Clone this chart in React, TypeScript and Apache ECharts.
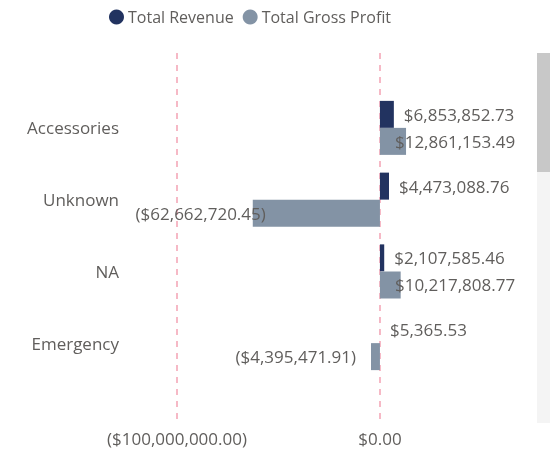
import React, { useEffect, useRef } from "react";
import * as echarts from "echarts";

const categories = ["Accessories", "Unknown", "NA", "Emergency"];
const totalRevenue = [6853852.73, 4473088.76, 2107585.46, 5365.53];
const totalGrossProfit = [12861153.49, -62662720.45, 10217808.77, -4395471.91];
const xTickValues = [-100000000, 0];

const FONT = "'Segoe UI', 'Open Sans', sans-serif";
const TEXT = "#605e5c";
const NAVY = "#223360";
const GREY = "#8393a5";

// label placement style for negative gross-profit labels (pixels from bar start)
const negLabelDistance: Record<string, number> = { Unknown: -13, Emergency: 15 };

const fmt = (v: number) => {
  const s = Math.abs(v).toLocaleString("en-US", {
    minimumFractionDigits: 2,
    maximumFractionDigits: 2,
  });
  return v < 0 ? `($${s})` : `$${s}`;
};

export default function App() {
  const ref = useRef<HTMLDivElement>(null);
  useEffect(() => {
    if (!ref.current) return;
    const chart = echarts.init(ref.current, undefined, { renderer: "svg" });
    const labelBase = { show: true, color: TEXT, fontFamily: FONT, fontSize: 17, formatter: (p: any) => fmt(p.value) };
    const xMin = xTickValues[0];
    const xMax = 70000000;
    chart.setOption({
      animation: false,
      textStyle: { fontFamily: FONT },
      legend: {
        left: 104,
        top: 4,
        icon: "circle",
        itemWidth: 15,
        itemHeight: 15,
        itemGap: 9,
        textStyle: { color: TEXT, fontSize: 16, fontFamily: FONT, padding: [0, 0, 0, -1] },
        data: ["Total Revenue", "Total Gross Profit"],
      },
      grid: [
        { left: 177, right: 172, top: 53, bottom: 33 },
        { left: 177, right: 30, top: 92, bottom: 455 - 379 },
      ],
      xAxis: [
        {
          gridIndex: 0,
          type: "value",
          min: xTickValues[0],
          max: xTickValues[1],
          interval: 100000000,
          axisLine: { show: false },
          axisTick: { show: false },
          axisLabel: {
            color: TEXT,
            fontSize: 17,
            fontFamily: FONT,
            margin: 8,
            formatter: (v: number) => fmt(v),
          },
          splitLine: { show: true, lineStyle: { color: "#f6b9c6", type: [6, 6], width: 2 } },
        },
        {
          gridIndex: 1,
          type: "value",
          min: xMin,
          max: xMax,
          show: false,
          splitLine: { show: false },
        },
      ],
      yAxis: [
        { gridIndex: 0, type: "category", data: categories, show: false },
        {
          gridIndex: 1,
          type: "category",
          data: categories,
          inverse: true,
          axisLine: { show: false },
          axisTick: { show: false },
          axisLabel: { color: TEXT, fontSize: 17, fontFamily: FONT, margin: 58 },
        },
      ],
      series: [
        {
          name: "Total Revenue",
          type: "bar",
          xAxisIndex: 1,
          yAxisIndex: 1,
          barWidth: 27,
          barGap: "0%",
          itemStyle: { color: NAVY },
          label: { ...labelBase, position: "right", distance: 10 },
          data: totalRevenue,
        },
        {
          name: "Total Gross Profit",
          type: "bar",
          xAxisIndex: 1,
          yAxisIndex: 1,
          barWidth: 27,
          barGap: "0%",
          itemStyle: { color: GREY },
          data: totalGrossProfit.map((v, i) => ({
            value: v,
            label:
              v >= 0
                ? { ...labelBase, position: "insideLeft", distance: 15 }
                : { ...labelBase, position: "left", distance: negLabelDistance[categories[i]] ?? 15 },
          })),
        },
      ],
      graphic: [
        { type: "rect", shape: { x: 537, y: 53, width: 13, height: 370 }, style: { fill: "#f4f4f4" } },
        { type: "rect", shape: { x: 537, y: 53, width: 13, height: 119 }, style: { fill: "#c8c8c8" } },
      ],
    });
    return () => chart.dispose();
  }, []);
  return <div ref={ref} style={{ position: "fixed", left: 0, top: 0, width: 552, height: 455 }} />;
}
